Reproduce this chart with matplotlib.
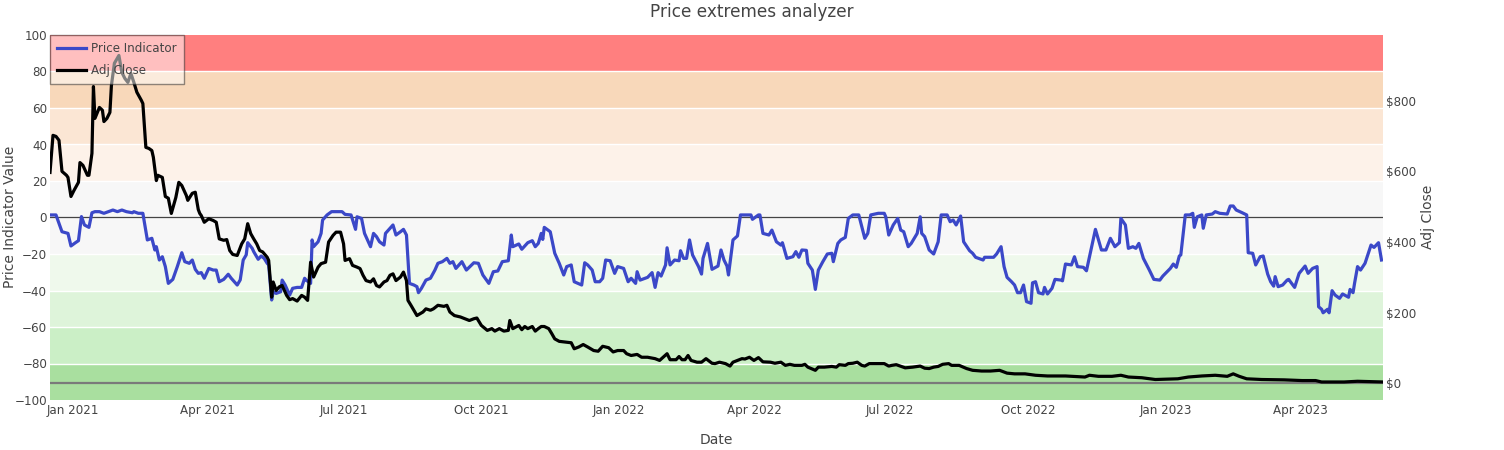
import matplotlib
matplotlib.use('Agg')
import matplotlib.pyplot as plt
import matplotlib.dates as mdates
from matplotlib.ticker import FixedLocator, FuncFormatter
from matplotlib.lines import Line2D
import pandas as pd

# ---------------- data ----------------
start_date = '2020-12-17'
end_day = 890

adj_day = [0, 2, 4, 6, 8, 11, 12, 14, 16, 19, 20, 22, 25, 26, 28, 29, 30, 33, 35, 36, 38, 40, 41, 43, 46, 48, 50, 52,
           54, 56, 58, 61, 62, 64, 66, 68, 69, 71, 72, 75, 77, 79, 81, 84, 86, 88, 91, 92, 95, 97, 99, 100, 101, 103,
           106, 109, 111, 113, 116, 118, 120, 122, 125, 128, 130, 132, 134, 136, 138, 140, 142, 145, 146, 148, 149,
           151, 153, 155, 158, 160, 162, 165, 168, 170, 172, 174, 176, 179, 181, 184, 186, 189, 191, 194, 196, 197,
           200, 202, 205, 207, 209, 211, 214, 216, 218, 220, 223, 225, 227, 229, 231, 234, 236, 238, 239, 241, 245,
           247, 249, 251, 254, 256, 259, 263, 265, 267, 270, 274, 277, 280, 283, 285, 288, 292, 295, 297, 300, 303,
           306, 307, 309, 313, 315, 317, 319, 322, 324, 326, 328, 330, 333, 335, 337, 340, 344, 348, 350, 353, 356,
           359, 363, 366, 369, 373, 376, 379, 383, 385, 388, 392, 395, 399, 404, 407, 412, 414, 418, 420, 422, 424,
           426, 428, 432, 435, 438, 442, 444, 447, 451, 454, 456, 459, 462, 464, 467, 470, 473, 476, 481, 484, 488,
           491, 494, 497, 502, 504, 506, 511, 513, 517, 522, 525, 527, 531, 533, 536, 539, 542, 544, 547, 553, 557,
           560, 562, 565, 571, 576, 581, 584, 587, 590, 593, 596, 600, 602, 607, 612, 616, 622, 628, 634, 639, 644,
           651, 658, 666, 678, 691, 694, 700, 709, 715, 720, 729, 738, 753, 760, 769, 778, 786, 790, 794, 799, 809,
           824, 836, 845, 849, 864, 873, 890]
adj_close = [597, 702, 699, 688, 600, 589, 583, 529, 546, 569, 625, 617, 589, 589, 651, 840, 750, 781, 773, 741, 750,
             767, 843, 906, 928, 880, 863, 852, 877, 852, 824, 801, 792, 668, 665, 659, 640, 574, 589, 583, 529, 524,
             481, 526, 569, 560, 532, 518, 538, 541, 492, 481, 475, 456, 466, 461, 456, 409, 405, 407, 376, 365, 362,
             395, 409, 452, 424, 409, 395, 376, 372, 357, 348, 244, 287, 263, 273, 277, 249, 237, 240, 233, 249, 244,
             235, 343, 301, 329, 339, 343, 400, 419, 428, 428, 395, 348, 353, 334, 329, 325, 306, 291, 287, 296, 277,
             273, 287, 291, 306, 310, 291, 301, 315, 291, 235, 221, 192, 197, 202, 211, 207, 211, 221, 218, 221, 202,
             192, 188, 183, 178, 183, 185, 164, 150, 155, 148, 155, 148, 150, 178, 155, 164, 152, 161, 155, 161, 148,
             155, 161, 161, 155, 141, 126, 119, 117, 115, 98, 103, 110, 103, 93, 91, 105, 101, 89, 93, 93, 84, 79, 82,
             74, 74, 70, 65, 84, 67, 67, 76, 67, 67, 79, 65, 60, 60, 70, 57, 56, 60, 56, 49, 60, 65, 70, 69, 74, 65,
             73, 61, 60, 57, 60, 51, 54, 51, 51, 54, 46, 37, 46, 46, 48, 46, 53, 51, 56, 57, 60, 51, 49, 56, 56, 56,
             49, 51, 53, 44, 46, 49, 43, 42, 46, 48, 54, 56, 51, 51, 42, 37, 35, 35, 37, 29, 27, 27, 23, 21, 21, 18,
             23, 20, 20, 23, 18, 16, 11, 13, 18, 21, 23, 20, 27, 20, 13, 11, 10, 8, 8, 4, 4, 6, 4]

ind_day = [0, 4, 8, 12, 14, 17, 19, 21, 23, 26, 28, 30, 33, 36, 39, 42, 45, 48, 51, 55, 56, 59, 62, 65, 68, 70, 71,
           73, 75, 77, 79, 82, 85, 88, 90, 93, 95, 97, 99, 101, 103, 106, 109, 111, 113, 116, 119, 121, 124, 125, 127,
           129, 131, 132, 135, 136, 139, 141, 143, 145, 146, 148, 149, 151, 154, 155, 157, 160, 162, 165, 168, 170,
           171, 174, 175, 176, 179, 181, 182, 185, 188, 195, 197, 201, 204, 205, 208, 210, 214, 216, 218, 220, 223,
           224, 227, 229, 231, 234, 236, 238, 240, 243, 245, 246, 248, 251, 254, 257, 259, 262, 265, 267, 269, 271,
           275, 278, 283, 286, 289, 293, 296, 299, 302, 306, 308, 309, 313, 315, 319, 322, 324, 326, 328, 329, 330,
           334, 337, 340, 343, 345, 348, 350, 355, 357, 359, 362, 364, 367, 369, 371, 374, 377, 379, 383, 386, 388,
           391, 392, 394, 399, 402, 404, 406, 408, 411, 412, 414, 417, 420, 421, 423, 425, 427, 429, 433, 435, 436,
           439, 442, 446, 448, 450, 452, 453, 456, 459, 461, 468, 469, 473, 474, 476, 480, 482, 485, 488, 489, 492,
           496, 498, 500, 502, 505, 506, 509, 511, 513, 516, 519, 522, 523, 526, 528, 531, 533, 536, 540, 542, 544,
           546, 548, 553, 557, 558, 560, 563, 566, 568, 570, 573, 575, 577, 579, 581, 582, 584, 587, 590, 593, 595,
           599, 601, 603, 605, 608, 610, 614, 616, 618, 623, 624, 630, 632, 635, 637, 639, 642, 644, 646, 648, 650,
           652, 655, 656, 658, 660, 663, 664, 666, 669, 671, 675, 676, 678, 682, 684, 686, 690, 692, 695, 698, 702,
           705, 708, 711, 714, 715, 718, 720, 723, 725, 727, 730, 734, 737, 741, 743, 748, 750, 752, 754, 755, 758,
           761, 763, 764, 766, 769, 770, 772, 776, 778, 781, 786, 788, 790, 792, 796, 799, 800, 803, 805, 808, 810,
           813, 815, 817, 818, 820, 823, 826, 827, 831, 834, 838, 840, 843, 846, 847, 849, 850, 853, 854, 856, 858,
           861, 863, 867, 868, 870, 871, 873, 875, 878, 882, 884, 887, 889]
ind_value = [1.4, 1.4, -7.8, -8.7, -15.6, -13.8, -12.7, 0.5, -4.1, -5.4, 2.6, 3.2, 3.2, 2.3, 3.2, 4.1, 3.2, 4.1, 3.2,
             2.6, 3.2, 2.3, 2.3, -12.3, -11.4, -17.8, -16.0, -23.3, -21.5, -26.9, -36.1, -33.9, -26.9, -19.3, -24.2,
             -25.1, -23.3, -28.4, -30.6, -30.2, -33.3, -27.9, -28.8, -28.8, -35.2, -33.9, -31.1, -33.3, -36.1, -37.0,
             -34.2, -23.3, -20.5, -13.8, -16.9, -18.7, -22.9, -21.1, -22.4, -25.1, -26.0, -45.2, -40.7, -41.6, -40.7,
             -34.3, -37.0, -42.5, -38.8, -38.3, -38.3, -33.3, -34.3, -36.1, -12.3, -16.0, -13.3, -8.7, -1.4, 1.4, 3.2,
             3.2, 1.7, 1.4, -6.5, 0.4, -0.5, -8.7, -16.0, -8.7, -10.5, -13.3, -15.1, -8.7, -5.9, -4.1, -9.6, -7.8,
             -6.5, -9.6, -36.1, -37.0, -37.9, -41.2, -38.8, -34.3, -33.3, -28.8, -25.1, -24.2, -22.4, -25.1, -24.2,
             -27.9, -24.2, -28.8, -24.8, -25.1, -31.5, -36.1, -29.7, -29.3, -24.2, -23.7, -9.6, -16.0, -14.5, -17.4,
             -13.8, -12.7, -16.0, -14.2, -8.7, -12.0, -5.4, -7.8, -19.6, -25.1, -31.5, -26.9, -26.0, -35.2, -37.0,
             -24.8, -26.0, -28.8, -35.2, -35.2, -33.3, -23.3, -23.7, -30.6, -26.9, -27.9, -35.2, -33.3, -36.1, -29.7,
             -34.3, -32.8, -30.2, -38.3, -30.2, -32.1, -26.0, -16.6, -26.0, -23.3, -23.7, -18.2, -22.4, -22.4, -12.3,
             -20.5, -26.9, -31.0, -22.4, -14.2, -28.4, -26.6, -17.8, -23.3, -26.6, -31.5, -12.3, -10.1, 1.4, 1.4,
             -1.0, 1.4, 1.4, -8.7, -9.6, -6.9, -13.3, -15.1, -13.8, -22.4, -21.5, -18.7, -21.8, -17.8, -18.0, -25.1,
             -28.8, -39.4, -28.8, -24.2, -20.0, -19.6, -24.2, -14.2, -12.3, -10.9, -0.5, 1.4, 1.4, -5.0, -11.4, -8.7,
             1.4, 2.3, 2.3, 0.4, -9.6, -4.1, -0.5, -6.9, -7.8, -16.0, -14.2, -11.4, -8.7, 0.4, -8.7, -10.5, -17.8,
             -20.0, -13.3, 1.4, 1.4, -2.3, -1.4, -4.1, 0.8, -13.3, -18.2, -19.6, -21.8, -23.3, -21.8, -21.8, -20.0,
             -16.0, -26.9, -32.8, -35.2, -37.0, -41.2, -41.2, -37.0, -46.1, -47.0, -35.8, -35.2, -41.2, -41.9, -38.3,
             -41.9, -38.8, -33.9, -34.3, -34.7, -25.5, -26.0, -21.5, -26.9, -27.3, -29.2, -17.8, -6.5, -17.8, -17.8,
             -11.4, -16.0, -13.8, -0.5, -4.1, -16.9, -16.0, -16.9, -14.2, -22.4, -28.8, -33.9, -34.3, -32.1, -27.9,
             -25.5, -27.3, -21.1, -20.5, 1.4, 1.4, 2.3, -5.4, 0.4, 1.4, -5.9, 1.4, 1.9, 3.2, 2.3, 1.9, 6.3, 6.3, 4.1,
             2.6, 1.4, -19.3, -19.6, -26.0, -21.5, -21.1, -31.0, -35.2, -37.6, -32.4, -37.9, -37.0, -34.3, -33.9,
             -38.3, -30.6, -26.6, -30.6, -27.9, -26.9, -48.9, -50.3, -52.2, -50.3, -52.2, -40.1, -42.5, -44.3, -41.9,
             -43.7, -39.4, -41.2, -36.1, -26.9, -28.8, -25.1, -15.1, -16.4, -13.8, -23.3]

ind_ticks = [-100, -80, -60, -40, -20, 0, 20, 40, 60, 80, 100]
usd_ticks = [0, 200, 400, 600, 800]
band_edges = [-100, -80, -60, -40, -20, 0, 20, 40, 60, 80, 100]

title = 'Price extremes analyzer'
series_names = ['Price Indicator', 'Adj Close']

# ---------------- style ----------------
band_colors = ['#a9df9f', '#cbefc6', '#def4da', '#eff9ec', '#f7f7f7',
               '#f7f7f7', '#fdf2e9', '#fbe6d4', '#f8d8ba', '#ff7f7f']
BLUE = '#3b48c8'
TXT = '#444444'
W, H = 1504, 450
L, R, T, B = 50, 1383, 35, 400

plt.rcParams['font.family'] = ['DejaVu Sans']

start = pd.Timestamp(start_date)
adj_dates = start + pd.to_timedelta(adj_day, unit='D')
ind_dates = start + pd.to_timedelta(ind_day, unit='D')
end = start + pd.Timedelta(days=end_day)

fig = plt.figure(figsize=(W / 100, H / 100), dpi=100)
ax = fig.add_axes([L / W, 1 - B / H, (R - L) / W, (B - T) / H])
ax.set_xlim(start, end)
ax.set_ylim(-100, 100)

for lo, hi, c in zip(band_edges[:-1], band_edges[1:], band_colors):
    ax.axhspan(lo, hi, color=c, lw=0, zorder=0)
for y in ind_ticks:
    if y not in (-100, 0, 100):
        ax.axhline(y, color='white', lw=1.0, zorder=0.5)
ax.axhline(0, color='#444444', lw=0.9, zorder=1)

ax.plot(ind_dates, ind_value, color=BLUE, lw=2.3, zorder=3, solid_joinstyle='round')

ax2 = ax.twinx()
ax2.set_ylim(-47, 986)
ax2.axhline(0, color='#7a7a7a', lw=1.6, zorder=1)
ax2.plot(adj_dates, adj_close, color='black', lw=2.3, zorder=3, solid_joinstyle='round')

for a in (ax, ax2):
    for s in a.spines.values():
        s.set_visible(False)
    a.tick_params(length=0, colors=TXT, labelsize=8.6)

ax.yaxis.set_major_locator(FixedLocator(ind_ticks))
ax.tick_params(axis='y', pad=2)
ax2.yaxis.set_major_locator(FixedLocator(usd_ticks))
ax2.yaxis.set_major_formatter(FuncFormatter(lambda v, p: f'${int(v)}'))
ax2.tick_params(axis='y', pad=2)

ax.xaxis.set_major_locator(mdates.MonthLocator(bymonth=[1, 4, 7, 10]))
ax.xaxis.set_major_formatter(mdates.DateFormatter('%b %Y'))
ax.tick_params(axis='x', pad=3)

fig.text(10 / W, 1 - 217 / H, 'Price Indicator Value', rotation=90, ha='center', va='center',
         color=TXT, fontsize=10)
fig.text(1428 / W, 1 - 217 / H, 'Adj Close', rotation=90, ha='center', va='center',
         color=TXT, fontsize=10)
fig.text((L + R) / 2 / W, 1 - 440 / H, 'Date', ha='center', va='center', color=TXT, fontsize=10)
fig.text(0.5, 1 - 12 / H, title, ha='center', va='center', color=TXT, fontsize=12.2)

handles = [Line2D([], [], color=BLUE, lw=2.3), Line2D([], [], color='black', lw=2.3)]
leg = ax2.legend(handles, series_names, loc='upper left', bbox_to_anchor=(0, 1), borderaxespad=0,
                 fancybox=False, framealpha=0.5, facecolor='white', edgecolor='#222222',
                 fontsize=8.6, handlelength=2.4, handletextpad=0.4, labelspacing=0.7,
                 borderpad=0.62)
leg.get_frame().set_linewidth(1.0)
for t in leg.get_texts():
    t.set_color(TXT)
leg.set_zorder(10)

fig.savefig('out.png', dpi=100)
